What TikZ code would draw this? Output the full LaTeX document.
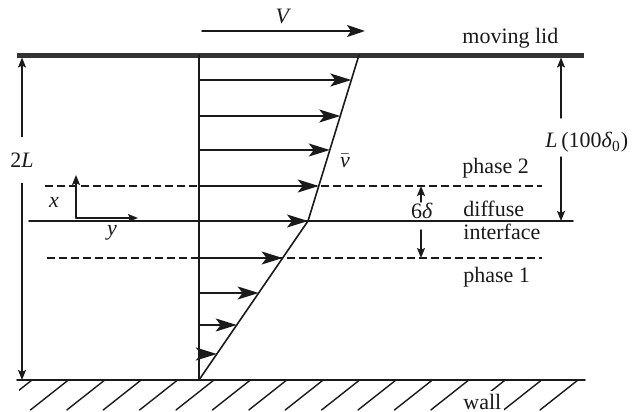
\documentclass[tikz,border=0pt]{standalone}
\usepackage{fontspec}
\setmainfont{Liberation Serif}
\usepackage{tikz}
\usetikzlibrary{arrows.meta,calc}
\definecolor{ink}{HTML}{1A1A1A}
\definecolor{lidgray}{HTML}{333333}
\tikzset{
    every picture/.style={line cap=round,line join=round},
    lidline/.style={draw=lidgray,line width=2.5pt,line cap=butt},
    wallline/.style={draw=ink,line width=0.8pt},
    profile/.style={draw=ink,line width=0.8pt},
    hatchline/.style={draw=ink,line width=0.7pt},
    phaseline/.style={draw=ink,line width=0.7pt,dash pattern=on 4pt off 2pt,line cap=butt},
    lidarrow/.style={-{Stealth[length=9pt,width=6pt,inset=2pt]},draw=ink,
      line width=0.9pt},
    velarrow/.style={-{Stealth[length=10.5pt,width=6.5pt,inset=2.5pt]},draw=ink,
      line width=0.9pt},
    dimarrow/.style={-{Stealth[length=5pt,width=4pt,inset=1pt]},draw=ink,
      line width=0.7pt},
    sidelabel/.style={anchor=base west,inner sep=0pt,text=ink},
    symlabel/.style={inner sep=0pt,text=ink}
}

\begin{document}
\begin{tikzpicture}[x=0.5pt,y=-0.5pt,font=\fontsize{11}{13}\selectfont]
  \useasboundingbox (0,0) rectangle (633,412);
  \coordinate (lidA) at (17,55);
  \coordinate (lidB) at (584,55);
  \coordinate (wallA) at (17,380);
  \coordinate (wallB) at (585,380);
  \coordinate (ax1) at (199,55);
  \coordinate (ax0) at (199,380);
  \coordinate (top) at (359,55);
  \coordinate (kink) at (308,221);
  \coordinate (ifA) at (29,221);
  \coordinate (ifB) at (573,221);
  \coordinate (ph2A) at (45,186);
  \coordinate (ph2B) at (542,186);
  \coordinate (ph1A) at (47,258);
  \coordinate (ph1B) at (542,258);
  % lid and wall
  \draw[lidline] (lidA) -- (lidB);
  \draw[wallline] (wallA) -- (wallB);
  \begin{scope}
    \clip (19,379) rectangle (600,412);
    \foreach \i in {0,...,15}
      \draw[hatchline] (32+36.4*\i,380) -- ++(-38,30);
  \end{scope}
  \node[symlabel,fill=white,inner sep=1.5pt,anchor=base west] (wall) at (460,409) {wall};
  % interface and phase boundaries
  \draw[wallline] (ifA) -- (ifB);
  \draw[phaseline] (ph2A) -- (ph2B);
  \draw[phaseline] (ph1A) -- (ph1B);
  % velocity profile
  \draw[profile] (ax1) -- (ax0);
  \draw[profile] (ax0) -- (kink) -- (top);
  \foreach \yy in {80,116,150,186}
    \draw[velarrow] ($(ax1)!{(\yy-55)/325}!(ax0)$) -- ($(top)!{(\yy-55)/166}!(kink)$);
  \draw[velarrow] (ax1 |- kink) -- (kink);
  \foreach \yy in {258,293,325,354}
    \draw[velarrow] ($(ax1)!{(\yy-55)/325}!(ax0)$) -- ($(kink)!{(\yy-221)/159}!(ax0)$);
  \node[symlabel,anchor=base] (vbar) at (345,167) {$\bar{\textit{v}}$};
  % lid velocity
  \coordinate (vA) at (202,31);
  \coordinate (vB) at (365,31);
  \draw[lidarrow] (vA) -- node[symlabel,above=3pt] (Vlab) {\textit{V}} (vB);
  % heights
  \node[symlabel,minimum height=23pt] (twoL) at (22,160) {2\textit{L}};
  \draw[dimarrow] (twoL.north) -- ([yshift=-1.25pt]twoL.north |- lidA);
  \draw[dimarrow] (twoL.south) -- (twoL.south |- wallA);
  \coordinate (Lup) at (561,118);
  \coordinate (Ldn) at (561,157);
  \draw[dimarrow] (Lup) -- ([yshift=-1.25pt]Lup |- lidA);
  \draw[dimarrow] (Ldn) -- (Ldn |- ifA);
  \node[sidelabel] (Llab) at (545,148) {\textit{L}\,(100\textit{δ}\textsubscript{0})};
  \coordinate (sdA) at (421,202);
  \coordinate (sdB) at (421,230);
  \draw[dimarrow] (sdA) -- (sdA |- ph2A);
  \draw[dimarrow] (sdB) -- (sdB |- ph1A);
  \node[symlabel,anchor=base] (sixd) at (422,218) {6\textit{δ}};
  % coordinate axes
  \coordinate (org) at (76,218);
  \coordinate (xtip) at (76,175);
  \coordinate (ytip) at (138,218);
  \draw[dimarrow] (org) -- (xtip);
  \draw[dimarrow] (org) -- (ytip);
  \node[symlabel,anchor=base] (xlab) at (54,207) {\textit{x}};
  \node[symlabel,anchor=base] (ylab) at (112,235) {\textit{y}};
  % region labels
  \node[sidelabel] (lid) at (462,43) {moving lid};
  \node[sidelabel] (ph2) at (462,173) {phase 2};
  \node[sidelabel] (diff) at (463,216) {diffuse};
  \node[sidelabel] (intf) at (463,239) {interface};
  \node[sidelabel] (ph1) at (463,282) {phase 1};
\end{tikzpicture}
\end{document}
